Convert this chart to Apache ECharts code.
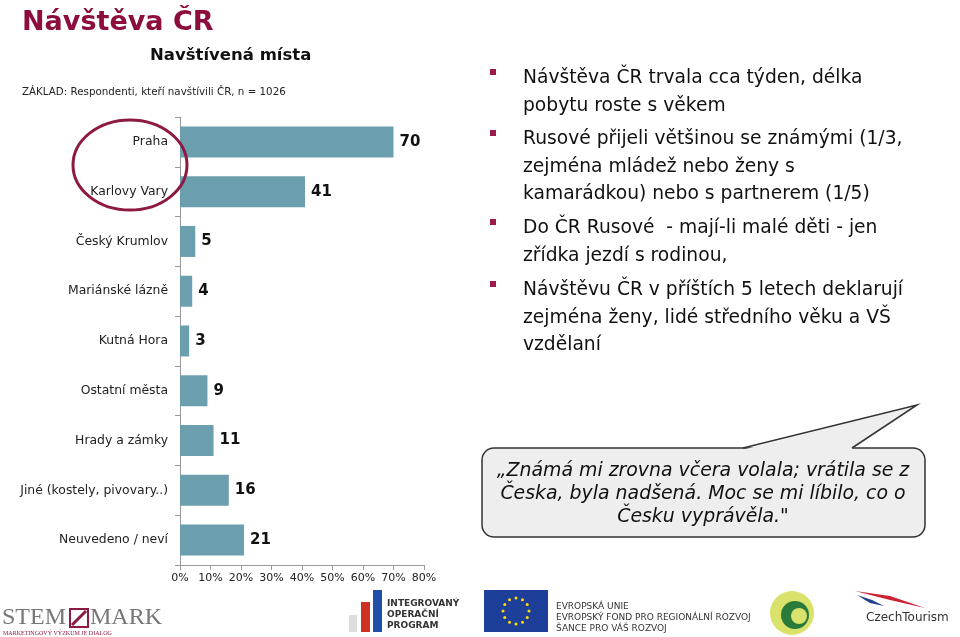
<!DOCTYPE html>
<html>
<head>
<meta charset="utf-8">
<script src="https://cdn.jsdelivr.net/npm/echarts@6/dist/echarts.min.js"></script>
<style>
html,body{margin:0;padding:0;background:#fff;}
#c{width:960px;height:637px;}
</style>
</head>
<body>
<div id="c"></div>
<script>
var categories = ['Praha','Karlovy Vary','Český Krumlov','Mariánské lázně','Kutná Hora','Ostatní města','Hrady a zámky','Jiné (kostely, pivovary..)','Neuvedeno / neví'];
var values = [70,41,5,4,3,9,11,16,21];
var xTicks = [0,10,20,30,40,50,60,70,80];
var bullets = [
  ['Návštěva ČR trvala cca týden, délka','pobytu roste s věkem'],
  ['Rusové přijeli většinou se známými (1/3,','zejména mládež nebo ženy s','kamarádkou) nebo s partnerem (1/5)'],
  ['Do ČR Rusové  - mají-li malé děti - jen','zřídka jezdí s rodinou,'],
  ['Návštěvu ČR v příštích 5 letech deklarují','zejména ženy, lidé středního věku a VŠ','vzdělaní']
];
var bulletY = [78,139,228,290];
var quote = '„Známá mi zrovna včera volala; vrátila se z\nČeska, byla nadšená. Moc se mi líbilo, co o\nČesku vyprávěla."';

var FONT = 'DejaVu Sans, Verdana, sans-serif';
var chart = echarts.init(document.getElementById('c'));

function txt(x,y,t,font,fill,extra){
  var s = {text:t,font:font,fill:fill,textVerticalAlign:'top'};
  if (extra) for (var k in extra) s[k]=extra[k];
  return {type:'text',x:x,y:y,style:s,z:20};
}
var graphics = [];
graphics.push(txt(22,9,'Návštěva ČR','bold 27px '+FONT,'#8c0d3e'));
graphics.push(txt(150,47,'Navštívená místa','bold 16.5px '+FONT,'#111'));
graphics.push(txt(22,87,'ZÁKLAD: Respondenti, kteří navštívili ČR, n = 1026','10.3px '+FONT,'#222'));
// red ellipse
graphics.push({type:'ellipse',shape:{cx:130,cy:165,rx:57,ry:45},style:{fill:'none',stroke:'#8c1a43',lineWidth:3},z:30});
// bullets
bullets.forEach(function(lines,i){
  graphics.push({type:'rect',shape:{x:490,y:bulletY[i]-9,width:6,height:6},style:{fill:'#9b1b4b'},z:20});
  lines.forEach(function(l,j){
    graphics.push(txt(523,bulletY[i]+j*27.8,l,'18.7px '+FONT,'#111',{textVerticalAlign:'middle'}));
  });
});
// speech bubble
graphics.push({type:'rect',shape:{x:482,y:448,width:443,height:89,r:12},style:{fill:'#eeeeee',stroke:'#333',lineWidth:1.5},z:20});
graphics.push({type:'polygon',shape:{points:[[744,449.5],[917,405],[851,449.5]]},style:{fill:'#eeeeee'},z:21});
graphics.push({type:'polyline',shape:{points:[[743,448],[917,405],[852,448]]},style:{stroke:'#333',lineWidth:1.5,fill:null},z:22});
graphics.push(txt(703,494,quote,'italic 18.9px '+FONT,'#111',{textAlign:'center',textVerticalAlign:'middle',lineHeight:23}));
// logos (approximate)
graphics.push(txt(2,606,'STEM','24px Liberation Serif, serif','#777'));
graphics.push({type:'rect',shape:{x:70,y:609,width:18,height:18},style:{fill:'none',stroke:'#8c1a43',lineWidth:2},z:20});
graphics.push({type:'line',shape:{x1:72,y1:625,x2:86,y2:611},style:{stroke:'#8c1a43',lineWidth:3},z:20});
graphics.push(txt(90,606,'MARK','24px Liberation Serif, serif','#777'));
graphics.push(txt(3,630,'MARKETINGOVÝ VÝZKUM JE DIALOG','6px Liberation Serif, serif','#8c1a43'));
graphics.push({type:'rect',shape:{x:349,y:615,width:8,height:17},style:{fill:'#ddd'},z:20});
graphics.push({type:'rect',shape:{x:361,y:602,width:9,height:30},style:{fill:'#cc3322'},z:20});
graphics.push({type:'rect',shape:{x:373,y:590,width:9,height:42},style:{fill:'#1f4fa8'},z:20});
graphics.push(txt(387,598,'INTEGROVANÝ\nOPERAČNÍ\nPROGRAM','bold 9px '+FONT,'#333',{lineHeight:11}));
graphics.push({type:'rect',shape:{x:484,y:590,width:64,height:42},style:{fill:'#1d3f9a'},z:20});
for (var k=0;k<12;k++){
  var a = k*Math.PI/6;
  graphics.push({type:'circle',shape:{cx:516+13*Math.cos(a),cy:611+13*Math.sin(a),r:1.5},style:{fill:'#ffdd00'},z:21});
}
graphics.push(txt(556,601,'EVROPSKÁ UNIE\nEVROPSKÝ FOND PRO REGIONÁLNÍ ROZVOJ\nŠANCE PRO VÁŠ ROZVOJ','9px '+FONT,'#333',{lineHeight:11}));
graphics.push({type:'circle',shape:{cx:792,cy:613,r:22},style:{fill:'#d9e26b'},z:20});
graphics.push({type:'circle',shape:{cx:795,cy:615,r:14},style:{fill:'#2a7a3a'},z:21});
graphics.push({type:'circle',shape:{cx:799,cy:616,r:8},style:{fill:'#d9e26b'},z:22});
graphics.push({type:'polygon',shape:{points:[[855,591],[890,596],[925,608],[890,600]]},style:{fill:'#cc2233'},z:20});
graphics.push({type:'polygon',shape:{points:[[857,595],[872,600],[884,606],[870,603]]},style:{fill:'#1f3f8f'},z:20});
graphics.push(txt(866,612,'CzechTourism','12px '+FONT,'#333'));

var option = {
  animation:false,
  grid:{left:180,right:536,top:117,bottom:72,containLabel:false},
  xAxis:{type:'value',min:0,max:80,interval:10,
    axisLine:{show:true,lineStyle:{color:'#999'}},
    axisTick:{show:true,length:5,lineStyle:{color:'#999'}},
    splitLine:{show:false},
    axisLabel:{formatter:function(v){return xTicks.indexOf(v)>=0? v+'%':'';},fontSize:11,color:'#222',fontFamily:FONT,margin:8}
  },
  yAxis:{type:'category',data:categories,inverse:true,
    axisLine:{show:true,lineStyle:{color:'#999'}},
    axisTick:{show:true,length:5,lineStyle:{color:'#999'}},
    axisLabel:{fontSize:12.4,color:'#222',fontFamily:FONT,margin:12}
  },
  series:[{type:'bar',data:values,barWidth:31,
    itemStyle:{color:'#6b9fad'},
    label:{show:true,position:'right',distance:6,fontSize:15,fontWeight:'bold',color:'#111',fontFamily:FONT}
  }],
  graphic:graphics
};
chart.setOption(option);
</script>
</body>
</html>
